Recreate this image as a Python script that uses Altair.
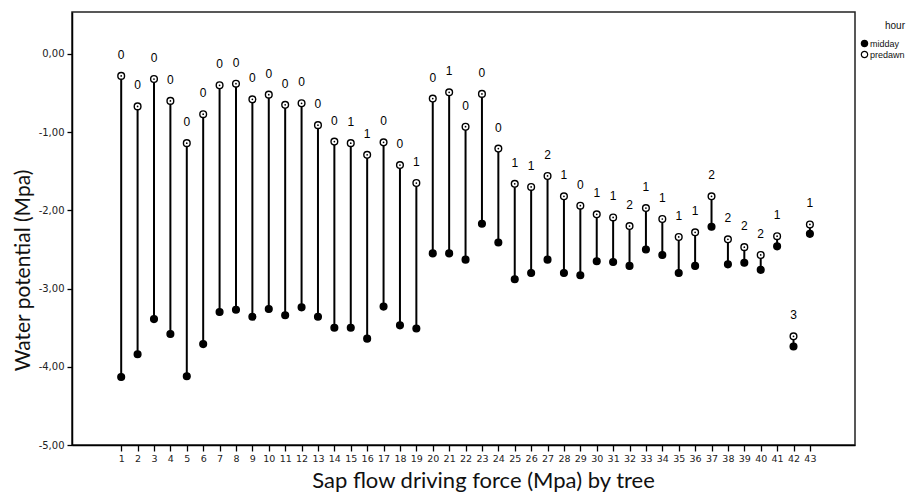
import altair as alt
import pandas as pd

trees = list(range(1, 44))
predawn = [-0.28, -0.67, -0.32, -0.60, -1.14, -0.77, -0.40, -0.38, -0.58, -0.52,
           -0.65, -0.63, -0.91, -1.12, -1.14, -1.29, -1.13, -1.42, -1.65, -0.57,
           -0.49, -0.93, -0.51, -1.21, -1.66, -1.70, -1.56, -1.82, -1.94, -2.05,
           -2.09, -2.20, -1.97, -2.11, -2.34, -2.28, -1.82, -2.37, -2.47, -2.57,
           -2.33, -3.61, -2.18]
midday = [-4.13, -3.84, -3.39, -3.58, -4.12, -3.71, -3.30, -3.27, -3.36, -3.26,
          -3.34, -3.24, -3.36, -3.50, -3.50, -3.64, -3.23, -3.47, -3.51, -2.55,
          -2.55, -2.63, -2.17, -2.41, -2.88, -2.80, -2.63, -2.80, -2.83, -2.65,
          -2.66, -2.71, -2.50, -2.57, -2.80, -2.71, -2.21, -2.69, -2.67, -2.76,
          -2.46, -3.74, -2.30]
labels = [0, 0, 0, 0, 0, 0, 0, 0, 0, 0, 0, 0, 0, 0,
          1, 1, 0, 0, 1, 0, 1, 0, 0, 0, 1, 1, 2, 1, 0, 1,
          1, 2, 1, 1, 1, 1, 2, 2, 2, 2, 1, 3, 1]
y_ticks = [0, -1, -2, -3, -4, -5]

wide = pd.DataFrame({"tree": trees, "predawn": predawn, "midday": midday,
                     "label": [str(v) for v in labels]})
long = wide.melt(id_vars=["tree", "label"], value_vars=["midday", "predawn"],
                 var_name="hour", value_name="value")

x_axis = alt.Axis(values=trees, title="Sap flow driving force (Mpa) by tree",
                  labelFont="DejaVu Sans", labelFontSize=9.5, labelPadding=2,
                  tickSize=6, labelAngle=0, labelFlush=False, labelOverlap=False,
                  titleFont="Lato", titleFontSize=22, titleFontWeight="normal",
                  titleX=411, titleY=42, titleBaseline="alphabetic", titleColor="#111")
y_axis = alt.Axis(values=y_ticks, title="Water potential (Mpa)",
                  labelExpr="(datum.value < 0 ? '-' : '') + replace(format(abs(datum.value), '.2f'), '.', ',')",
                  labelFont="DejaVu Sans", labelFontSize=10, labelPadding=3, tickSize=5,
                  titleFont="Lato", titleFontSize=21, titleFontWeight="normal",
                  titleX=-49, titleY=258, titleAngle=270, titleBaseline="middle",
                  titleAlign="center", titleColor="#111")

x_sc = alt.Scale(domain=[-2, 45.75], nice=False, zero=False)
y_sc = alt.Scale(domain=[-5, 0.537], nice=False, zero=False)

base_w = alt.Chart(wide)

rules = base_w.mark_rule(color="black", strokeWidth=2).encode(
    x=alt.X("tree:Q", scale=x_sc, axis=x_axis),
    y=alt.Y("midday:Q", scale=y_sc, axis=y_axis),
    y2="predawn:Q",
)

points = alt.Chart(long).mark_point(shape="circle", filled=True, stroke="black",
                                    strokeWidth=1.4, size=45, opacity=1).encode(
    x=alt.X("tree:Q", scale=x_sc, axis=x_axis),
    y=alt.Y("value:Q", scale=y_sc, axis=y_axis),
    fill=alt.Fill("hour:N", scale=alt.Scale(domain=["midday", "predawn"], range=["black", "white"]),
                  legend=alt.Legend(title="hour", orient="none", legendX=788, legendY=9,
                                    titleAnchor="end", titleFont="Liberation Sans",
                                    titleFontSize=10, titleFontWeight="normal", titleColor="#111",
                                    titlePadding=8, labelFont="Liberation Sans", labelFontSize=9,
                                    labelColor="#111", labelOffset=1, symbolSize=40,
                                    symbolType="circle", symbolStrokeColor="black",
                                    symbolStrokeWidth=1.2, rowPadding=-3, padding=0)),
)

dots = base_w.mark_circle(size=3, color="black", opacity=1).encode(
    x=alt.X("tree:Q", scale=x_sc, axis=x_axis),
    y=alt.Y("predawn:Q", scale=y_sc, axis=y_axis),
)

texts = base_w.mark_text(dy=-21, fontSize=12, font="Liberation Sans", color="black",
                         baseline="middle").encode(
    x=alt.X("tree:Q", scale=x_sc, axis=x_axis),
    y=alt.Y("predawn:Q", scale=y_sc, axis=y_axis),
    text="label:N",
)

chart = alt.layer(rules, points, dots, texts).properties(
    width=783, height=433,
    autosize=alt.AutoSizeParams(type="none"),
    padding={"left": 64, "top": 4, "right": 58, "bottom": 50},
).configure_view(
    stroke="#222", strokeWidth=1.5
).configure_axis(
    grid=False, domainColor="black", domainWidth=1.5, tickColor="black",
    tickWidth=1.3, labelColor="#222"
)

chart.save("out.html", embed_options={"renderer": "svg", "actions": False})
